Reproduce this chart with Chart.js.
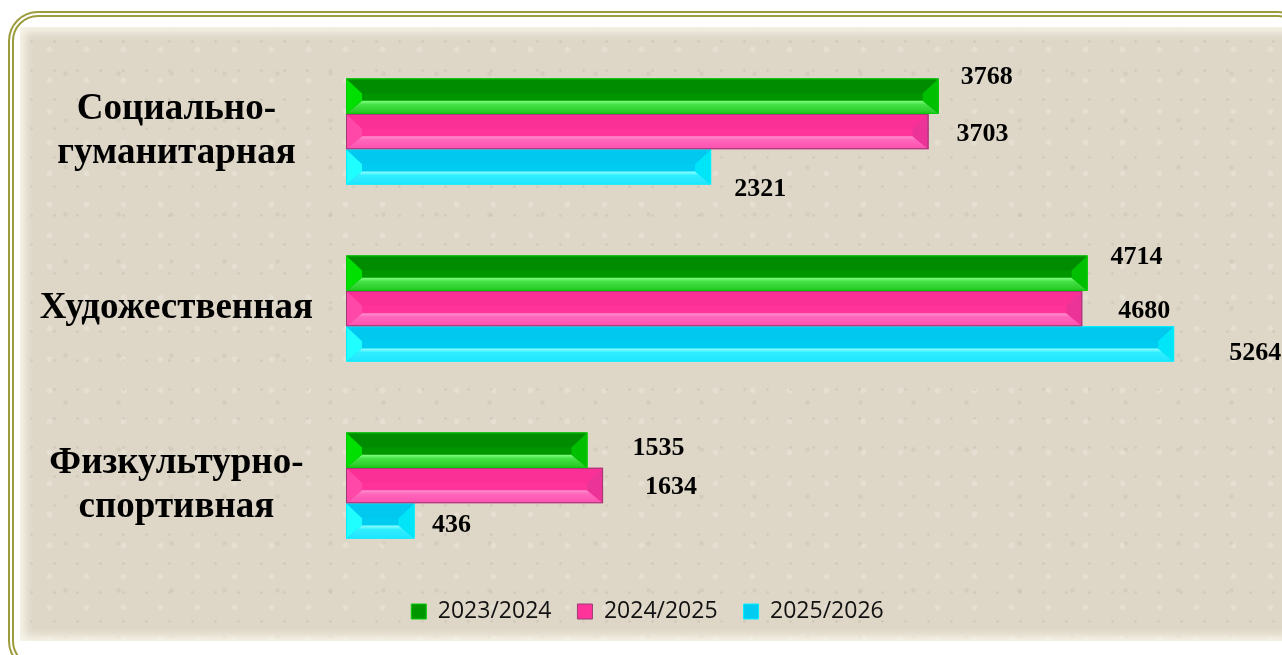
<!DOCTYPE html>
<html><head><meta charset="utf-8">
<script src="https://cdn.jsdelivr.net/npm/chart.js@4/dist/chart.umd.min.js"></script>
<style>
html,body{margin:0;padding:0;width:1282px;height:655px;overflow:hidden;background:#fff;}
#frame{position:absolute;left:8px;top:11px;width:1300px;height:660px;border:6px double #9d9c3c;border-radius:30px;box-sizing:border-box;}
#panel{position:absolute;left:20px;top:27px;width:1280px;height:614px;background-color:#ded7c8;
 background-image:
  radial-gradient(circle, rgba(150,140,120,.16) 0 1px, transparent 1.8px),
  radial-gradient(circle, rgba(250,248,240,.25) 0 2px, transparent 3.5px),
  radial-gradient(circle, rgba(140,130,110,.12) 0 1.5px, transparent 3px);
 background-size:23px 29px,37px 31px,53px 47px;
 background-position:0 0,11px 7px,19px 23px;
 box-shadow:inset 0 0 9px 5px #f7f4e8;}
#wrap{position:absolute;left:0;top:0;width:1282px;height:655px;}
</style></head>
<body>
<div id="frame"></div>
<div id="panel"></div>
<div id="wrap"><canvas id="c" width="1282" height="655"></canvas></div>
<script>
// ---- data ----
const categories = [['Социально-', 'гуманитарная'], 'Художественная', ['Физкультурно-', 'спортивная']];
const seriesNames = ['2023/2024', '2024/2025', '2025/2026'];
const values2023 = [3768, 4714, 1535];
const values2024 = [3703, 4680, 1634];
const values2025 = [2321, 5264, 436];

// ---- styles ----
const faceColors = ['#009600', '#ff3399', '#00ccf2'];
const edgeColors = ['#00cc00', '#9c3a74', '#00f0ff'];
const bevelStyles = [
  {top: '#008c00', side: '#00e000', side2: '#00bf00', b1: '#80ff80', b2: '#44e044', b3: '#22c822'},
  {top: '#fb3096', side: '#ff48a8', side2: '#ec3398', b1: '#ff90d0', b2: '#ff66bb', b3: '#ff50b0'},
  {top: '#00c8ee', side: '#20ffff', side2: '#00e6f8', b1: '#90ffff', b2: '#30eeff', b3: '#20e4ff'}
];
// value label offsets from bar end / bar centre (per series, per category)
const labelOffsets = [
  [[48, -19], [49, -16], [71, -2]],
  [[54, 3], [62, 3], [68, 2]],
  [[49, 22], [81, 9], [37, 4]]
];
const legendShift = 34;

function poly(ctx, pts, fill) {
  ctx.beginPath();
  ctx.moveTo(pts[0][0], pts[0][1]);
  for (let i = 1; i < pts.length; i++) ctx.lineTo(pts[i][0], pts[i][1]);
  ctx.closePath();
  ctx.fillStyle = fill;
  ctx.fill();
}

const bevelPlugin = {
  id: 'bevel',
  afterDatasetDraw(chart, args) {
    const ctx = chart.ctx;
    const st = bevelStyles[args.index];
    args.meta.data.forEach(el => {
      const p = el.getProps(['x', 'y', 'base', 'height'], true);
      const l = Math.min(p.base, p.x), r = Math.max(p.base, p.x);
      const t = p.y - p.height / 2, b = p.y + p.height / 2;
      const w = r - l, h = p.height;
      const bw = Math.min(16, w / 2), tb = Math.round(h * 0.42), bb = Math.round(h * 0.36);
      ctx.save();
      poly(ctx, [[l, t], [r, t], [r - bw, t + tb], [l + bw, t + tb]], st.top);
      const g = ctx.createLinearGradient(0, b - bb, 0, b);
      g.addColorStop(0, st.b1); g.addColorStop(0.3, st.b2); g.addColorStop(1, st.b3);
      poly(ctx, [[l + bw, b - bb], [r - bw, b - bb], [r, b], [l, b]], g);
      poly(ctx, [[l, t], [l + bw, t + tb], [l + bw, b - bb], [l, b]], st.side);
      poly(ctx, [[r, t], [r - bw, t + tb], [r - bw, b - bb], [r, b]], st.side2);
      ctx.strokeStyle = edgeColors[args.index];
      ctx.lineWidth = 1;
      ctx.strokeRect(l + 0.5, t + 0.5, w - 1, h - 1);
      ctx.restore();
    });
  }
};

const valueLabelPlugin = {
  id: 'valueLabels',
  afterDatasetsDraw(chart) {
    const ctx = chart.ctx;
    ctx.save();
    ctx.font = 'bold 26px "Liberation Serif", "Times New Roman", serif';
    ctx.fillStyle = '#000';
    ctx.textAlign = 'center';
    ctx.textBaseline = 'middle';
    chart.data.datasets.forEach((ds, di) => {
      const meta = chart.getDatasetMeta(di);
      meta.data.forEach((el, i) => {
        const p = el.getProps(['x', 'y'], true);
        const off = labelOffsets[di][i];
        ctx.fillText(String(ds.data[i]), p.x + off[0], p.y + off[1]);
      });
    });
    ctx.restore();
  }
};

const legendShiftPlugin = {
  id: 'legendShift',
  afterLayout(chart) {
    if (chart.legend) { chart.legend.left += legendShift; chart.legend.right += legendShift; }
  }
};

const seriesValues = [values2023, values2024, values2025];
const datasets = seriesNames.map((name, i) => ({
  label: name,
  data: seriesValues[i],
  backgroundColor: faceColors[i],
  borderColor: edgeColors[i],
  borderWidth: 1,
  borderSkipped: false,
  categoryPercentage: 0.6,
  barPercentage: 1.0
}));

new Chart(document.getElementById('c'), {
  type: 'bar',
  data: {labels: categories, datasets},
  options: {
    indexAxis: 'y',
    responsive: false,
    animation: false,
    devicePixelRatio: 1,
    layout: {padding: {top: 43, bottom: 22, left: 0, right: 55}},
    scales: {
      x: {display: false, min: 0, max: 5600},
      y: {
        grid: {display: false, drawTicks: false},
        border: {display: false},
        afterFit: (axis) => { axis.width = 346; axis.paddingTop = 0; axis.paddingBottom = 0; },
        ticks: {
          crossAlign: 'center',
          padding: 33,
          color: '#000',
          font: {family: '"Liberation Serif", "Times New Roman", serif', size: 37, weight: 'bold', lineHeight: 1.17}
        }
      }
    },
    plugins: {
      legend: {
        position: 'bottom',
        labels: {
          boxWidth: 15, boxHeight: 15, padding: 26, color: '#111',
          font: {family: '"Open Sans", sans-serif', size: 23}
        }
      },
      tooltip: {enabled: false}
    }
  },
  plugins: [bevelPlugin, valueLabelPlugin, legendShiftPlugin]
});
</script>
</body></html>
